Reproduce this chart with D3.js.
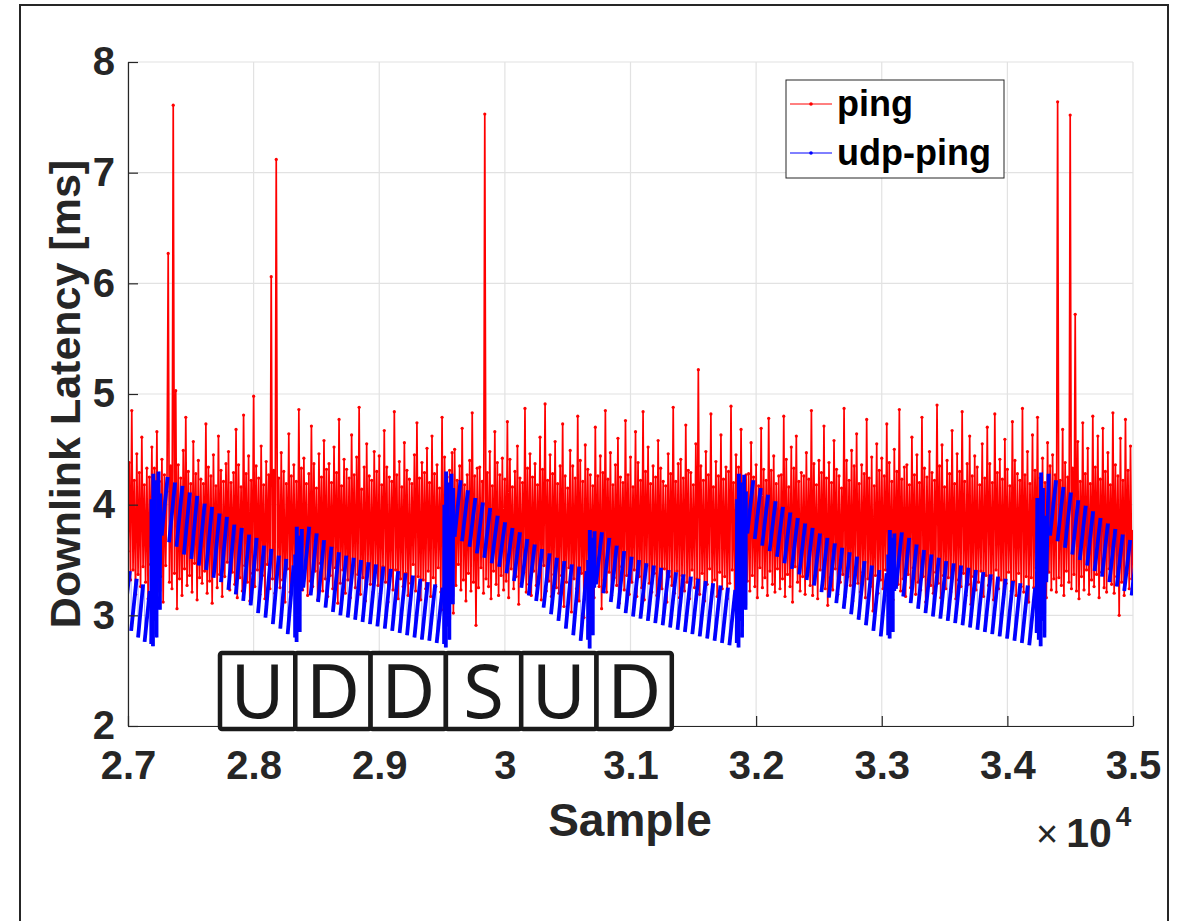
<!DOCTYPE html>
<html>
<head>
<meta charset="utf-8">
<script src="https://cdn.jsdelivr.net/npm/d3@7"></script>
<style>
  body { margin: 0; background: #fff; }
  text { font-family: "Liberation Sans", Arial, sans-serif; }
</style>
</head>
<body>
<div id="graph"></div>
<script>
// axis ticks
const xTicks = [27000, 28000, 29000, 30000, 31000, 32000, 33000, 34000, 35000];
const xTickLabels = ["2.7", "2.8", "2.9", "3", "3.1", "3.2", "3.3", "3.4", "3.5"];
const yTicks = [2, 3, 4, 5, 6, 7, 8];

// ping: one value every 10 samples from sample 27000
const pingFirst = 27000, pingStep = 10;
const pingValues = [
  3.58, 4.38, 3.32, 4.85, 3.41, 4.22, 3.19, 4.46, 3.37, 4.29, 3.26, 4.61, 3.44, 4.18, 3.30, 4.33, 3.15, 4.25, 3.46, 4.52,
  3.28, 4.33, 3.40, 4.66, 3.22, 4.21, 3.35, 4.41, 3.12, 4.27, 3.45, 4.12, 6.27, 3.30, 4.35, 3.24, 7.61, 3.38, 5.03, 3.06,
  4.36, 3.33, 4.24, 3.18, 4.49, 3.42, 4.79, 3.27, 4.30, 3.36, 4.19, 3.21, 4.57, 3.47, 4.28, 3.14, 4.40, 3.34, 4.23, 3.29,
  4.19, 3.40, 4.73, 3.20, 4.34, 3.31, 4.26, 3.11, 4.45, 3.43, 4.17, 3.25, 4.62, 3.37, 4.31, 3.17, 4.21, 3.35, 4.37, 3.48,
  4.48, 3.23, 4.20, 3.39, 4.29, 3.28, 4.68, 3.16, 4.36, 3.34, 4.16, 3.22, 4.81, 3.45, 4.28, 3.30, 4.44, 3.13, 4.22, 3.38,
  4.98, 3.26, 4.35, 3.41, 4.24, 3.19, 4.53, 3.36, 4.18, 3.15, 4.39, 3.46, 4.27, 3.24, 6.06, 3.33, 4.31, 3.20, 7.12, 3.39,
  4.24, 3.25, 4.47, 3.32, 4.30, 3.12, 4.19, 3.42, 4.64, 3.21, 4.26, 3.35, 4.36, 3.27, 4.21, 3.10, 4.86, 3.38, 4.33, 3.23,
  4.42, 3.44, 4.19, 3.18, 4.28, 3.31, 4.71, 3.26, 4.37, 3.40, 4.15, 3.14, 4.46, 3.47, 4.25, 3.22, 4.58, 3.33, 4.32, 3.17,
  4.37, 3.36, 4.20, 3.24, 4.52, 3.43, 4.29, 3.11, 4.77, 3.29, 4.17, 3.41, 4.41, 3.20, 4.32, 3.32, 4.24, 3.16, 4.63, 3.45,
  4.27, 3.25, 4.43, 3.37, 4.88, 3.19, 4.14, 3.34, 4.34, 3.13, 4.55, 3.42, 4.26, 3.28, 4.22, 3.21, 4.48, 3.39, 4.30, 3.27,
  4.44, 3.20, 4.18, 3.44, 4.67, 3.30, 4.34, 3.12, 4.25, 3.36, 4.21, 3.23, 4.84, 3.41, 4.27, 3.15, 4.39, 3.33, 4.16, 3.26,
  4.56, 3.38, 4.31, 3.18, 4.23, 3.29, 4.19, 3.46, 4.45, 3.22, 4.74, 3.35, 4.24, 3.14, 4.38, 3.32, 4.29, 3.24, 4.51, 3.40,
  4.20, 3.17, 4.62, 3.34, 4.28, 3.26, 4.36, 3.43, 4.15, 3.21, 4.79, 3.05, 4.43, 3.37, 4.25, 3.16, 4.31, 3.39, 4.47, 3.02,
  4.50, 3.27, 4.22, 3.46, 4.35, 3.23, 4.69, 3.32, 4.18, 3.13, 4.27, 3.38, 4.40, 3.22, 4.83, 3.30, 4.26, 2.91, 4.33, 3.25,
  4.34, 3.43, 4.21, 3.20, 7.53, 3.33, 4.29, 3.26, 4.48, 3.15, 4.17, 3.40, 4.66, 3.28, 4.38, 3.18, 4.27, 3.36, 4.42, 3.23,
  4.23, 3.31, 4.75, 3.16, 4.41, 3.42, 4.16, 3.24, 4.30, 3.35, 4.53, 3.10, 4.24, 3.29, 4.20, 3.39, 4.87, 3.21, 4.33, 3.28,
  4.46, 3.18, 4.25, 3.40, 4.37, 3.27, 4.18, 3.34, 4.61, 3.14, 4.32, 3.45, 4.91, 3.22, 4.22, 3.31, 4.45, 3.17, 4.28, 3.37,
  4.57, 3.25, 4.19, 3.20, 4.35, 3.36, 4.73, 3.08, 4.26, 3.30, 4.15, 3.43, 4.49, 3.03, 4.35, 3.33, 4.24, 3.24, 4.80, 3.13,
  4.40, 3.38, 4.21, 2.98, 4.54, 3.29, 4.32, 3.22, 4.27, 3.41, 4.17, 3.16, 4.70, 3.35, 4.26, 3.26, 4.44, 3.06, 4.29, 3.32,
  4.85, 3.21, 4.23, 3.39, 4.47, 3.18, 4.18, 3.34, 4.36, 3.27, 4.60, 3.11, 4.25, 3.44, 4.20, 3.23, 4.76, 3.36, 4.27, 3.19,
  4.43, 3.30, 4.16, 3.41, 4.66, 3.17, 4.38, 3.35, 4.22, 3.25, 4.84, 3.14, 4.30, 3.45, 4.52, 3.29, 4.19, 3.21, 4.35, 3.38,
  4.25, 3.18, 4.58, 3.32, 4.33, 3.24, 4.21, 3.42, 4.17, 3.12, 4.46, 3.35, 4.28, 3.27, 4.88, 3.20, 4.21, 3.40, 4.37, 3.16,
  4.41, 3.36, 4.24, 3.22, 4.72, 3.30, 4.31, 3.15, 4.29, 3.41, 4.18, 3.25, 4.55, 3.33, 5.22, 3.19, 4.35, 3.38, 4.22, 3.13,
  4.48, 3.28, 4.27, 3.42, 4.82, 3.21, 4.16, 3.32, 4.39, 3.17, 4.26, 3.39, 4.63, 3.24, 4.23, 3.35, 4.34, 3.15, 4.30, 3.29,
  4.89, 3.41, 4.20, 3.19, 4.45, 3.33, 4.34, 3.23, 4.68, 3.38, 4.19, 3.13, 4.27, 3.31, 4.28, 3.22, 4.56, 3.36, 4.25, 3.26,
  4.36, 3.16, 4.17, 3.43, 4.69, 3.25, 4.32, 3.34, 4.22, 3.18, 4.78, 3.40, 4.31, 3.28, 4.44, 3.21, 4.19, 3.42, 4.26, 3.24,
  4.27, 3.33, 4.80, 3.17, 4.41, 3.37, 4.16, 3.26, 4.52, 3.12, 4.33, 3.44, 4.62, 3.30, 4.21, 3.22, 4.29, 3.35, 4.26, 3.19,
  4.47, 3.39, 4.23, 3.27, 4.85, 3.18, 4.37, 3.36, 4.18, 3.15, 4.40, 3.41, 4.29, 3.31, 4.71, 3.24, 4.24, 3.09, 4.38, 3.34,
  4.20, 3.23, 4.58, 3.42, 4.32, 3.19, 4.26, 3.30, 4.15, 3.37, 4.87, 3.17, 4.40, 3.35, 4.22, 3.27, 4.49, 3.13, 4.35, 3.43,
  4.64, 3.29, 4.19, 3.21, 4.36, 3.39, 4.28, 3.16, 4.77, 3.33, 4.24, 3.26, 4.43, 3.04, 4.17, 3.36, 4.55, 3.20, 4.31, 3.32,
  4.42, 3.24, 4.26, 3.41, 4.73, 3.18, 4.38, 3.34, 4.21, 3.14, 4.50, 3.38, 4.30, 3.28, 4.86, 3.22, 4.23, 3.33, 4.34, 3.17,
  4.36, 3.37, 4.18, 3.25, 4.61, 3.43, 4.27, 3.19, 4.45, 3.30, 4.20, 3.23, 4.79, 3.35, 4.33, 3.12, 4.25, 3.32, 4.48, 3.27,
  4.29, 3.20, 4.22, 3.39, 4.90, 3.29, 4.35, 3.16, 4.54, 3.36, 4.16, 3.24, 4.40, 3.34, 4.28, 3.21, 4.67, 3.41, 4.19, 3.15,
  4.46, 3.32, 4.30, 3.26, 4.84, 3.38, 4.21, 3.18, 4.37, 3.28, 4.62, 3.10, 4.26, 3.35, 4.44, 3.23, 4.34, 3.30, 4.18, 3.40,
  4.55, 3.17, 4.24, 3.36, 4.70, 3.27, 4.37, 3.33, 4.20, 3.14, 4.82, 3.41, 4.29, 3.24, 4.41, 3.32, 4.23, 3.19, 4.59, 3.29,
  4.32, 3.39, 4.17, 3.22, 4.75, 3.31, 4.40, 3.18, 4.28, 3.38, 4.22, 3.26, 4.87, 3.21, 4.27, 3.35, 4.48, 3.12, 4.19, 3.34,
  4.63, 3.25, 4.31, 3.43, 4.79, 3.20, 4.24, 3.36, 4.42, 3.29, 4.20, 3.16, 4.56, 3.39, 4.35, 3.23, 4.45, 3.33, 4.27, 3.21,
  7.64, 3.34, 4.22, 3.27, 4.68, 3.18, 4.38, 3.40, 4.25, 3.30, 7.52, 3.24, 4.33, 3.37, 5.72, 3.22, 4.57, 3.15, 4.21, 3.35,
  4.74, 3.23, 4.28, 3.41, 4.51, 3.19, 4.19, 3.32, 4.80, 3.26, 4.34, 3.37, 4.62, 3.16, 4.23, 3.39, 4.69, 3.25, 4.30, 3.21,
  4.47, 3.42, 4.18, 3.28, 4.83, 3.20, 4.36, 3.35, 4.26, 3.00, 4.60, 3.30, 4.22, 3.18, 4.77, 3.38, 4.31, 3.24, 4.53, 3.33,
  3.76
];

// udp-ping: sawtooth, each tooth rises from low to high between its start and the next start
const udpStart = [
  26970, 27025, 27080, 27132,
  27185, 27199, 27213, 27227, 27241, 27254,
  27268, 27327, 27386, 27445, 27504, 27563, 27622, 27681, 27740, 27799, 27858, 27917, 27976, 28035, 28094, 28153, 28212, 28271,
  28330, 28342, 28355, 28367, 28380,
  28395, 28454, 28513, 28572, 28631, 28690, 28749, 28808, 28867, 28926, 28985, 29044, 29103, 29162, 29221, 29280, 29339, 29398, 29457,
  29516, 29530, 29544, 29558, 29572, 29586,
  29600, 29659, 29718, 29777, 29836, 29895, 29954, 30013, 30072, 30131, 30190, 30249, 30308, 30367, 30426, 30485, 30544, 30603,
  30662, 30675, 30688, 30700, 30712,
  30725, 30784, 30843, 30902, 30961, 31020, 31079, 31138, 31197, 31256, 31315, 31374, 31433, 31492, 31551, 31610, 31669, 31728, 31787,
  31846, 31860, 31874, 31888, 31902, 31916,
  31930, 31989, 32048, 32107, 32166, 32225, 32284, 32343, 32402, 32461, 32520, 32579, 32638, 32697, 32756, 32815, 32874, 32933, 32992,
  33051, 33063, 33076, 33088, 33100,
  33112, 33171, 33230, 33289, 33348, 33407, 33466, 33525, 33584, 33643, 33702, 33761, 33820, 33879, 33938, 33997, 34056, 34115, 34174,
  34233, 34250, 34265, 34280, 34295, 34310,
  34340, 34399, 34458, 34517, 34576, 34635, 34694, 34753, 34812, 34871, 34930, 34989
];
const udpLow = [
  2.95, 2.86, 2.80, 2.76,
  2.74, 2.72, 2.95, 2.80, 3.30, 3.05,
  3.72, 3.66, 3.62, 3.55, 3.51, 3.45, 3.41, 3.34, 3.30, 3.23, 3.19, 3.13, 3.09, 3.02, 2.98, 2.92, 2.88, 2.83,
  2.80, 2.76, 3.05, 2.85, 3.22,
  3.25, 3.18, 3.12, 3.07, 3.03, 3.00, 2.98, 2.96, 2.94, 2.92, 2.90, 2.88, 2.86, 2.84, 2.82, 2.80, 2.78, 2.77, 2.75,
  2.74, 2.71, 2.90, 2.78, 3.25, 3.10,
  3.71, 3.67, 3.62, 3.56, 3.52, 3.47, 3.44, 3.38, 3.31, 3.25, 3.18, 3.13, 3.07, 3.01, 2.95, 2.88, 2.82, 2.77,
  2.78, 2.70, 3.00, 2.82, 3.25,
  3.28, 3.20, 3.12, 3.06, 3.02, 2.99, 2.97, 2.95, 2.93, 2.91, 2.89, 2.87, 2.85, 2.83, 2.81, 2.79, 2.77, 2.75, 2.73,
  2.75, 2.71, 2.95, 2.80, 3.30, 3.05,
  3.74, 3.69, 3.63, 3.58, 3.53, 3.47, 3.42, 3.37, 3.32, 3.27, 3.21, 3.16, 3.11, 3.06, 3.01, 2.96, 2.91, 2.86, 2.81,
  2.82, 2.79, 3.05, 2.85, 3.22,
  3.24, 3.17, 3.11, 3.06, 3.02, 2.99, 2.97, 2.95, 2.93, 2.91, 2.89, 2.87, 2.85, 2.83, 2.81, 2.79, 2.77, 2.75, 2.73,
  2.84, 2.78, 2.72, 2.95, 2.80, 3.30,
  3.72, 3.67, 3.61, 3.55, 3.50, 3.45, 3.40, 3.35, 3.30, 3.26, 3.22, 3.18
];
const udpHigh = [
  3.40, 3.33, 3.28, 3.22,
  4.05, 4.28, 4.22, 3.95, 4.30, 4.10,
  4.25, 4.20, 4.17, 4.11, 4.08, 4.01, 3.98, 3.92, 3.89, 3.82, 3.79, 3.73, 3.70, 3.63, 3.60, 3.54, 3.51, 3.45,
  3.55, 3.80, 3.72, 3.62, 3.78,
  3.80, 3.74, 3.68, 3.62, 3.57, 3.54, 3.52, 3.50, 3.48, 3.46, 3.44, 3.42, 3.40, 3.38, 3.36, 3.33, 3.30, 3.28, 3.25,
  4.00, 4.30, 4.20, 3.90, 4.28, 4.15,
  4.22, 4.13, 4.06, 4.02, 3.97, 3.90, 3.84, 3.79, 3.75, 3.69, 3.64, 3.60, 3.56, 3.52, 3.49, 3.46, 3.44, 3.40,
  3.50, 3.77, 3.70, 3.60, 3.76,
  3.75, 3.70, 3.63, 3.58, 3.53, 3.50, 3.47, 3.45, 3.43, 3.41, 3.39, 3.37, 3.35, 3.33, 3.31, 3.29, 3.27, 3.25, 3.23,
  4.05, 4.28, 4.20, 3.95, 4.27, 4.12,
  4.22, 4.15, 4.09, 4.03, 3.98, 3.93, 3.88, 3.83, 3.79, 3.74, 3.70, 3.65, 3.61, 3.57, 3.53, 3.49, 3.45, 3.41, 3.38,
  3.55, 3.77, 3.70, 3.62, 3.74,
  3.75, 3.70, 3.64, 3.59, 3.55, 3.52, 3.49, 3.47, 3.45, 3.43, 3.41, 3.39, 3.37, 3.35, 3.33, 3.31, 3.29, 3.27, 3.25,
  4.06, 3.60, 4.29, 4.15, 3.90, 4.28,
  4.22, 4.16, 4.11, 4.04, 3.99, 3.94, 3.88, 3.83, 3.78, 3.73, 3.68, 3.64
];
const udpEnd = 35048;

// frame letters drawn in the box under the traces
const frameLetters = ["U", "D", "D", "S", "U", "D"];

const seriesNames = ["ping", "udp-ping"];
const seriesColors = ["#ff0000", "#0000ff"];

// ---- layout ----
var W = 1183, H = 921;
var plot = {left: 128, top: 62, right: 1133, bottom: 726};
var ink = "#262626";

const svg = d3.select("#graph")
  .append("svg")
    .attr("width", W)
    .attr("height", H);

// figure border
svg.append("rect")
  .attr("x", 20).attr("y", 5)
  .attr("width", 1148).attr("height", 940)
  .attr("fill", "none")
  .attr("stroke", ink)
  .attr("stroke-width", 2);

var x = d3.scaleLinear().domain([27000, 35000]).range([plot.left, plot.right]);
var y = d3.scaleLinear().domain([2, 8]).range([plot.bottom, plot.top]);

// grid
svg.append("g")
  .selectAll("line")
  .data(xTicks)
  .join("line")
    .attr("x1", d => x(d)).attr("x2", d => x(d))
    .attr("y1", plot.top).attr("y2", plot.bottom)
    .attr("stroke", "#e2e2e2").attr("stroke-width", 1.2);
svg.append("g")
  .selectAll("line")
  .data(yTicks)
  .join("line")
    .attr("x1", plot.left).attr("x2", plot.right)
    .attr("y1", d => y(d)).attr("y2", d => y(d))
    .attr("stroke", "#e2e2e2").attr("stroke-width", 1.2);

svg.append("defs").append("clipPath").attr("id", "clip")
  .append("rect")
    .attr("x", plot.left).attr("y", plot.top)
    .attr("width", plot.right - plot.left).attr("height", plot.bottom - plot.top);

const traces = svg.append("g").attr("clip-path", "url(#clip)");

// ping trace
var ping = pingValues.map((v, i) => ({s: pingFirst + i * pingStep, v: v}));
var line = d3.line().x(d => x(d.s)).y(d => y(d.v));

traces.append("path")
  .datum(ping)
  .attr("fill", "none")
  .attr("stroke", seriesColors[0])
  .attr("stroke-width", 1.7)
  .attr("d", line);
traces.append("g")
  .selectAll("circle")
  .data(ping)
  .join("circle")
    .attr("cx", d => x(d.s)).attr("cy", d => y(d.v))
    .attr("r", 1.6)
    .attr("fill", seriesColors[0]);

// udp-ping trace: thin connecting line plus dense rising ramps
var teeth = udpStart.map((s, i) => ({
  s0: s,
  s1: i < udpStart.length - 1 ? udpStart[i + 1] : udpEnd,
  lo: udpLow[i],
  hi: udpHigh[i]
}));
var udpPts = [];
teeth.forEach(t => { udpPts.push({s: t.s0, v: t.lo}); udpPts.push({s: t.s1, v: t.hi}); });

traces.append("path")
  .datum(udpPts)
  .attr("fill", "none")
  .attr("stroke", seriesColors[1])
  .attr("stroke-opacity", 0.5)
  .attr("stroke-width", 0.7)
  .attr("d", line);
traces.append("g")
  .selectAll("line")
  .data(teeth)
  .join("line")
    .attr("x1", d => x(d.s0)).attr("y1", d => y(d.lo))
    .attr("x2", d => x(d.s1) - 1.5).attr("y2", d => y(d.hi))
    .attr("stroke", seriesColors[1])
    .attr("stroke-width", 3.8);

// axes
var fontSize = 40;
const yAxis = svg.append("g")
  .attr("transform", "translate(" + plot.left + ",0)")
  .call(d3.axisLeft(y).tickValues(yTicks).tickSizeInner(-10).tickSizeOuter(0).tickPadding(13).tickFormat(d3.format("d")));
const xAxis = svg.append("g")
  .attr("transform", "translate(0," + plot.bottom + ")")
  .call(d3.axisBottom(x).tickValues(xTicks).tickSizeInner(-10).tickSizeOuter(0).tickPadding(25)
    .tickFormat((d, i) => xTickLabels[i]));

[xAxis, yAxis].forEach(a => {
  a.select(".domain").attr("stroke", ink).attr("stroke-width", 1.2);
  a.selectAll(".tick line").attr("stroke", ink).attr("stroke-width", 1.2);
  a.selectAll(".tick text")
    .attr("fill", ink)
    .style("font-size", fontSize + "px")
    .style("font-weight", "bold");
});

// labels
svg.append("text")
  .attr("x", 630)
  .attr("y", 836)
  .attr("text-anchor", "middle")
  .attr("fill", ink)
  .style("font-size", "46px").style("font-weight", "bold")
  .text("Sample");

svg.append("text")
  .attr("transform", "translate(80," + (plot.top + plot.bottom) / 2 + ") rotate(-90)")
  .attr("text-anchor", "middle")
  .attr("fill", ink)
  .style("font-size", "43px").style("font-weight", "bold")
  .text("Downlink Latency [ms]");

// x10^4 exponent
const expo = svg.append("text")
  .attr("x", 1036).attr("y", 847)
  .attr("fill", ink);
expo.append("tspan").style("font-size", "38px").text("\u00d7");
expo.append("tspan").attr("dx", 8).style("font-size", "41px").style("font-weight", "bold").text("10");
expo.append("tspan").attr("dy", -21).attr("dx", 4).style("font-size", "28px").style("font-weight", "bold").text("4");

// legend
const legend = svg.append("g");
legend.append("rect")
  .attr("x", 786).attr("y", 80)
  .attr("width", 218).attr("height", 98)
  .attr("fill", "#fff")
  .attr("stroke", ink).attr("stroke-width", 1);
seriesNames.forEach((name, i) => {
  var ly = 104 + i * 49;
  legend.append("line")
    .attr("x1", 790).attr("x2", 832)
    .attr("y1", ly).attr("y2", ly)
    .attr("stroke", seriesColors[i]).attr("stroke-width", 1);
  legend.append("circle")
    .attr("cx", 811).attr("cy", ly).attr("r", 1.8)
    .attr("fill", seriesColors[i]);
  legend.append("text")
    .attr("x", 837).attr("y", ly + 12)
    .style("font-size", "36px").style("font-weight", "bold")
    .attr("fill", "#000")
    .text(name);
});

// frame-type boxes
var cellW = 75.3, cellX0 = 220, cellY0 = 653, cellH = 76;
const cells = svg.append("g")
  .selectAll("g")
  .data(frameLetters)
  .join("g")
    .attr("transform", (d, i) => "translate(" + (cellX0 + i * cellW) + "," + cellY0 + ")");
cells.append("rect")
  .attr("width", cellW).attr("height", cellH)
  .attr("rx", 2)
  .attr("fill", "#fff")
  .attr("stroke", "#1a1a1a")
  .attr("stroke-width", 4.5);
cells.append("text")
  .attr("x", cellW / 2).attr("y", 65)
  .attr("text-anchor", "middle")
  .attr("fill", "#1a1a1a")
  .style("font-family", "'Noto Sans', 'Open Sans', sans-serif")
  .style("font-size", "74px")
  .text(d => d);
</script>
</body>
</html>
